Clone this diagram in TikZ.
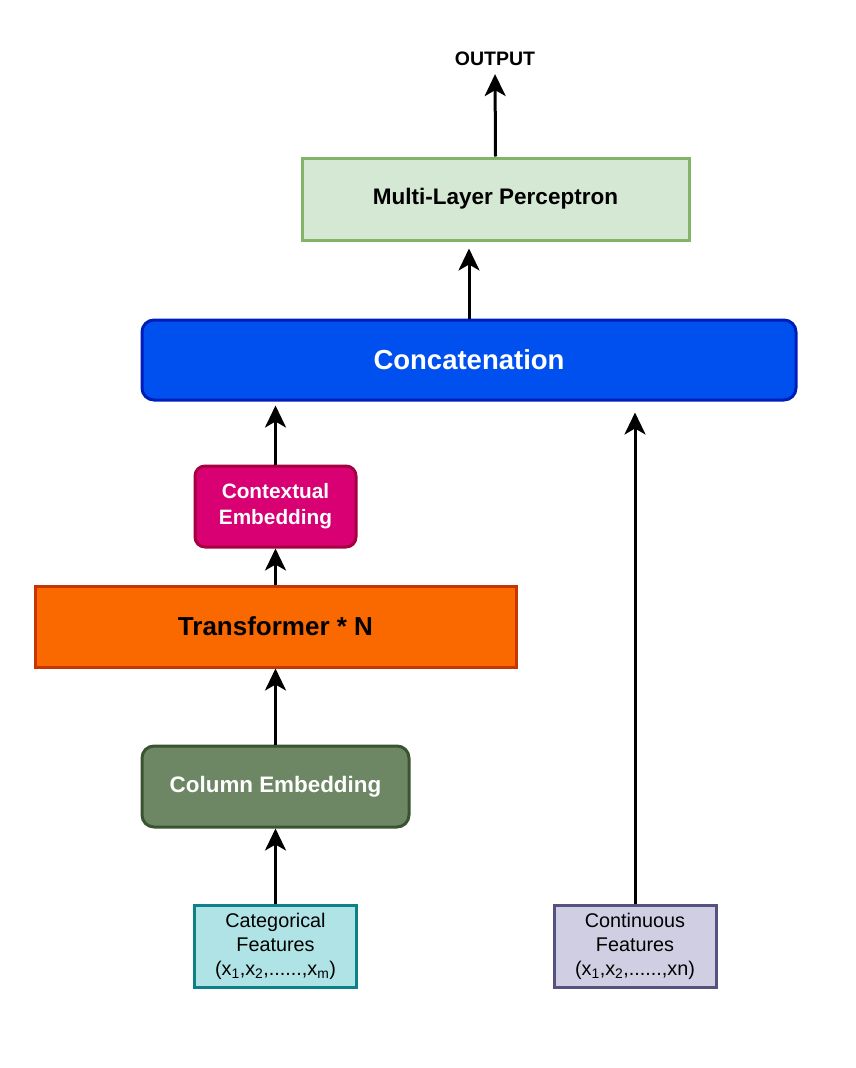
\documentclass[tikz,border=0pt]{standalone}
\usepackage{fontspec}
\setmainfont{Liberation Sans}
\usetikzlibrary{arrows.meta}
\definecolor{mlpfill}{HTML}{D5E8D4}\definecolor{mlpline}{HTML}{82B366}
\definecolor{catfill}{HTML}{0050EF}\definecolor{catline}{HTML}{001DBC}
\definecolor{ctxfill}{HTML}{D80073}\definecolor{ctxline}{HTML}{A50040}
\definecolor{trfill}{HTML}{FA6800}\definecolor{trline}{HTML}{C73500}
\definecolor{colfill}{HTML}{6D8764}\definecolor{colline}{HTML}{3A5431}
\definecolor{cfill}{HTML}{B0E3E6}\definecolor{cline}{HTML}{0E8088}
\definecolor{nfill}{HTML}{D0CEE2}\definecolor{nline}{HTML}{56517E}
\tikzset{
  box/.style={draw, line width=3pt, inner sep=0pt, align=center, anchor=center},
  arr/.style={line width=3pt, -{Stealth[length=22pt,width=21pt,inset=6pt]}},
}
\begin{document}
\begin{tikzpicture}[x=1pt,y=-1pt]
\useasboundingbox (0,0) rectangle (856,1068);
\node[box, fill=mlpfill, draw=mlpline, minimum width=387pt, minimum height=82pt,
  font=\fontsize{22.5}{27}\selectfont\bfseries] (mlp) at (495.5,199) {Multi-Layer Perceptron};
\node[box, fill=catfill, draw=catline, rounded corners=12pt, minimum width=654pt, minimum height=80pt,
  text=white, font=\fontsize{27.5}{32}\selectfont\bfseries] (concat) at (469,360) {Concatenation};
\node[box, fill=ctxfill, draw=ctxline, rounded corners=10pt, minimum width=161pt, minimum height=81pt,
  text=white, font=\fontsize{20.8}{26}\selectfont\bfseries] (ctx) at (275.5,506.5) {Contextual\\Embedding};
\node[box, fill=trfill, draw=trline, minimum width=481pt, minimum height=81pt,
  font=\fontsize{26}{31}\selectfont\bfseries] (tr) at (275.5,626.5) {Transformer * N};
\node[box, fill=colfill, draw=colline, rounded corners=12pt, minimum width=267pt, minimum height=81pt,
  text=white, font=\fontsize{22.4}{27}\selectfont\bfseries] (col) at (275.5,786.5) {Column Embedding};
\node[box, fill=cfill, draw=cline, minimum width=162pt, minimum height=82pt,
  font=\fontsize{19.8}{24}\selectfont] (cat) at (275.5,946) {Categorical\\Features\\(x\textsubscript{1},x\textsubscript{2},......,x\textsubscript{m})};
\node[box, fill=nfill, draw=nline, minimum width=162pt, minimum height=82pt,
  font=\fontsize{19.8}{24}\selectfont] (cont) at (635,946) {Continuous\\Features\\(x\textsubscript{1},x\textsubscript{2},......,xn)};
\node[font=\fontsize{19.5}{23}\selectfont\bfseries, inner sep=2pt] (out) at (495,59) {OUTPUT};
\draw[arr] (cat.north) -- (col.south);
\draw[arr] (col.north) -- (tr.south);
\draw[arr] (tr.north) -- (ctx.south);
\draw[arr, shorten >=4pt] (ctx.north) -- (ctx.north |- concat.south);
\draw[arr, shorten >=11pt] (cont.north) -- (cont.north |- concat.south);
\draw[arr, shorten >=7pt] (concat.north) -- (concat.north |- mlp.south);
\draw[arr, shorten >=6pt] (mlp.north) -- (out.south);
\end{tikzpicture}
\end{document}
